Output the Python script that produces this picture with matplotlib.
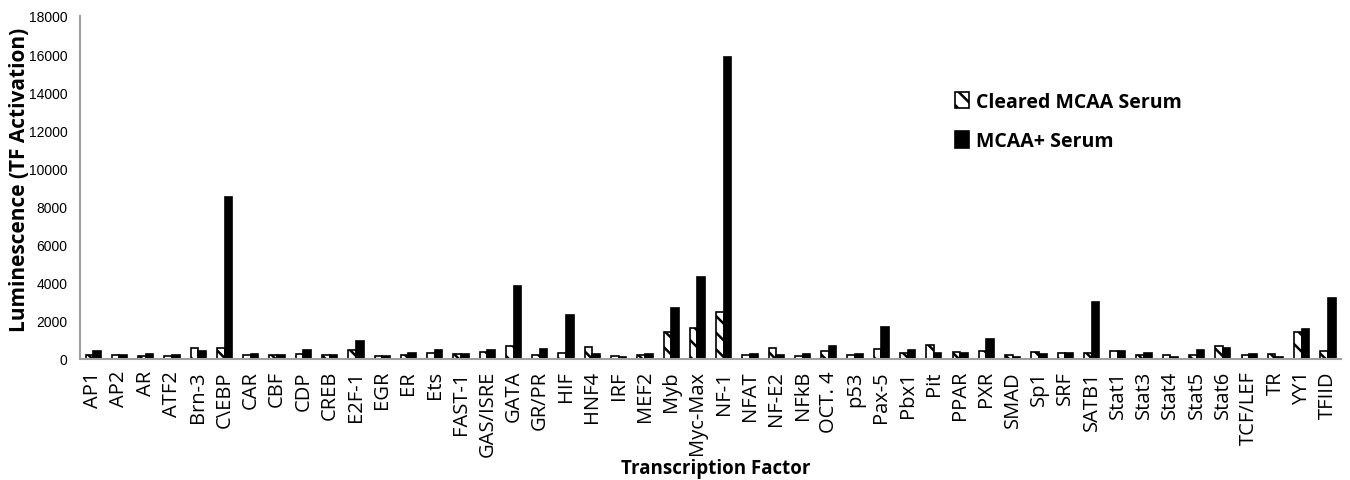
import numpy as np
import matplotlib
matplotlib.use('Agg')
import matplotlib.pyplot as plt

# Transcription factors and luminescence
factors = ['AP1', 'AP2', 'AR', 'ATF2', 'Brn-3', 'C\\EBP', 'CAR', 'CBF', 'CDP', 'CREB',
           'E2F-1', 'EGR', 'ER', 'Ets', 'FAST-1', 'GAS/ISRE', 'GATA', 'GR/PR', 'HIF', 'HNF4',
           'IRF', 'MEF2', 'Myb', 'Myc-Max', 'NF-1', 'NFAT', 'NF-E2', 'NFkB', 'OCT. 4', 'p53',
           'Pax-5', 'Pbx1', 'Pit', 'PPAR', 'PXR', 'SMAD', 'Sp1', 'SRF', 'SATB1', 'Stat1',
           'Stat3', 'Stat4', 'Stat5', 'Stat6', 'TCF/LEF', 'TR', 'YY1', 'TFIID']
cleared = [230, 230, 160, 170, 560, 570, 220, 200, 280, 220,
           490, 170, 220, 290, 280, 370, 700, 230, 300, 620,
           170, 210, 1400, 1650, 2490, 220, 550, 160, 440, 220,
           500, 290, 740, 360, 420, 200, 360, 290, 290, 430,
           200, 220, 220, 700, 220, 270, 1400, 430]
positive = [400, 190, 260, 190, 400, 8480, 260, 190, 470, 200,
            920, 170, 330, 470, 260, 470, 3830, 520, 2330, 280,
            110, 260, 2650, 4280, 15850, 260, 200, 270, 660, 250,
            1690, 460, 320, 300, 1030, 100, 260, 310, 2980, 400,
            310, 120, 460, 580, 240, 100, 1550, 3180]

plt.rcParams['hatch.linewidth'] = 1.8

fig = plt.figure(figsize=(13.5, 4.81), dpi=100)
ax = fig.add_axes([0.0593, 0.2516, 0.9341, 0.7132])

x = np.arange(len(factors))
w = 0.29
ax.bar(x - w / 2, cleared, w, color='white', edgecolor='black', hatch='\\\\',
       linewidth=1.2, label='Cleared MCAA Serum')
ax.bar(x + w / 2, positive, w, color='black', edgecolor='black',
       linewidth=1.2, label='MCAA+ Serum')

ax.set_xlim(-0.5, len(factors) - 0.5)
ax.set_ylim(0, 18000)
ax.set_yticks(range(0, 18001, 2000))
ax.set_xticks(x)
ax.set_xticklabels(factors, rotation=90, fontsize=14.5, family='Open Sans')
for lab in ax.get_yticklabels():
    lab.set_family('Liberation Sans')
    lab.set_fontsize(10)
ax.tick_params(length=0, pad=9)
ax.tick_params(axis='x', pad=8)

for s in ['top', 'right']:
    ax.spines[s].set_visible(False)
for s in ['left', 'bottom']:
    ax.spines[s].set_color('#a0a0a0')
    ax.spines[s].set_linewidth(1.5)

ax.set_xlabel('Transcription Factor', fontsize=13.5, fontweight='bold', family='Open Sans')
ax.xaxis.set_label_coords(0.5045, -0.29)
ax.set_ylabel('Luminescence (TF Activation)', fontsize=15, fontweight='bold', family='Open Sans')
ax.yaxis.set_label_coords(-0.0395, 0.525)

ax.legend(loc='upper left', bbox_to_anchor=(0.68, 0.83), frameon=False,
          prop={'family': 'Open Sans', 'weight': 'bold', 'size': 14},
          handlelength=0.7, handleheight=0.9, handletextpad=0.4, labelspacing=1.0)

fig.savefig('out.png', dpi=100)
